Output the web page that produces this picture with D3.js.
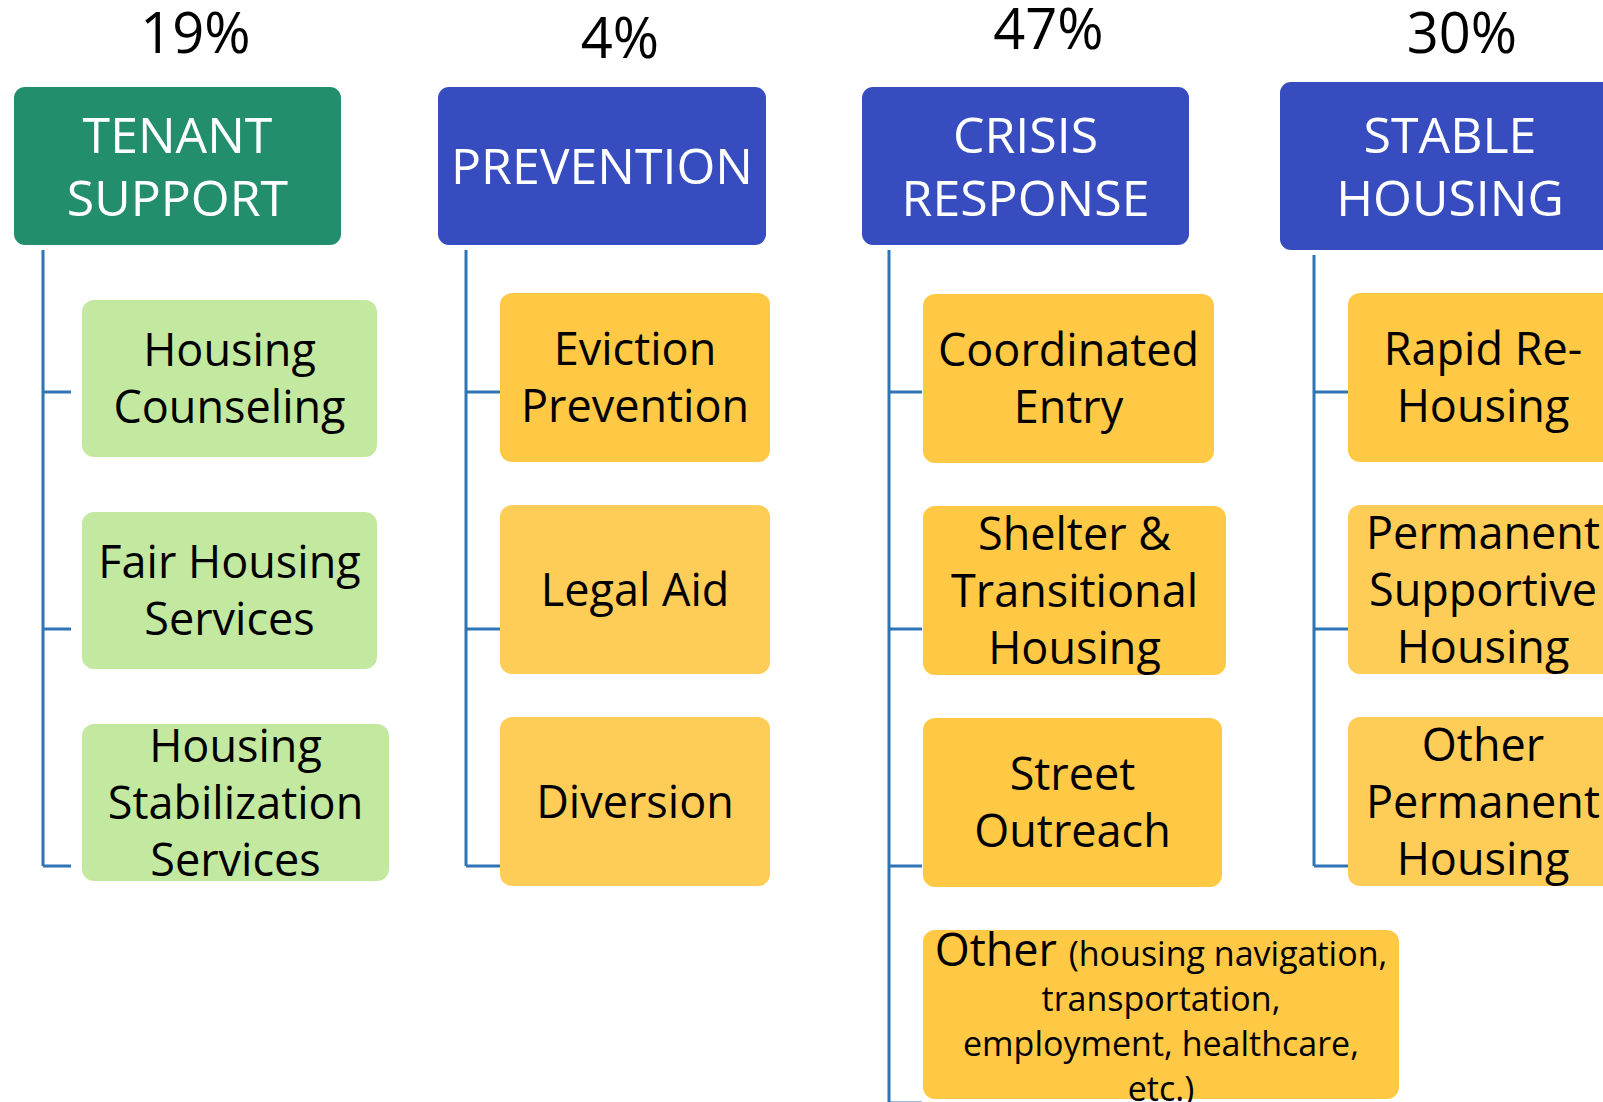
<!DOCTYPE html>
<html>
<head>
<meta charset="utf-8">
<script src="https://cdn.jsdelivr.net/npm/d3@7"></script>
<style>
    body { margin: 0; background: #ffffff; }
    svg { display: block; font-family: "Segoe UI", "Open Sans", sans-serif; }
</style>
</head>
<body>
<svg id="chart" width="1603" height="1102"></svg>
<script>
// funding share per program area
let groups = ['Tenant Support', 'Prevention', 'Crisis Response', 'Stable Housing']
let shares = [19, 4, 47, 30]
let header_labels = [['TENANT', 'SUPPORT'], ['PREVENTION'], ['CRISIS', 'RESPONSE'], ['STABLE', 'HOUSING']]

// programs under each area
let program_group = [0, 0, 0, 1, 1, 1, 2, 2, 2, 2, 3, 3, 3]
let program_row = [0, 1, 2, 0, 1, 2, 0, 1, 2, 3, 0, 1, 2]
let program_labels = [
    ['Housing', 'Counseling'],
    ['Fair Housing', 'Services'],
    ['Housing', 'Stabilization', 'Services'],
    ['Eviction', 'Prevention'],
    ['Legal Aid'],
    ['Diversion'],
    ['Coordinated', 'Entry'],
    ['Shelter &', 'Transitional', 'Housing'],
    ['Street', 'Outreach'],
    ['Other'],
    ['Rapid Re-', 'Housing'],
    ['Permanent', 'Supportive', 'Housing'],
    ['Other', 'Permanent', 'Housing']
]
let other_note = ['(housing navigation,', 'transportation,', 'employment, healthcare,', 'etc.)']

// layout (pixels), kept apart from the data
let col_left = [14, 438, 862, 1280]
let header_top = [87, 87, 87, 82]
let header_h = [158, 158, 158, 168]
let header_w = [327, 328, 327, 340]
let pct_dx = [18, 18, 23, 12]
let pct_base = [53, 58, 49, 53]
let line_dx = [29, 28, 27, 34]
let tick_len = [28, 34, 33, 34]
let box_dx = [68, 62, 61, 68]
let box_dy = [7, 0, 1, 0]
let box_w = [295, 295, 307, 270, 270, 270, 291, 303, 299, 476, 270, 270, 270]
let box_h = [157, 169, 169, 169]
let box_tone = ['green', 'green', 'green', 'gold', 'soft', 'soft', 'gold', 'gold', 'gold', 'gold', 'gold', 'soft', 'soft']

let colors = {
    header: ['#238e6e', '#374cbf', '#374cbf', '#374cbf'],
    green: '#c3e8a0',
    gold: '#ffc845',
    soft: '#fecd58',
    line: '#2e75b6'
}

let svg = d3.select('#chart')

let x = d3.scaleOrdinal().domain(groups).range(col_left)
let row_top = d3.scaleLinear().domain([0, 1]).range([293, 505])
let tick_y = d3.scaleLinear().domain([0, 1]).range([392, 629])

let child_font = 45
let child_lh = 57

// connector lines
groups.forEach(function(g, gi) {
    let lx = x(g) + line_dx[gi]
    let rows = program_row.filter((r, i) => program_group[i] === gi)
    let last = d3.max(rows)
    let path = d3.path()
    path.moveTo(lx, header_top[gi] + header_h[gi] + 5)
    path.lineTo(lx, tick_y(last))
    rows.forEach(function(r) {
        path.moveTo(lx, tick_y(r))
        path.lineTo(lx + tick_len[gi], tick_y(r))
    })
    svg.append('path')
        .attr('d', path.toString())
        .attr('fill', 'none')
        .attr('stroke', colors.line)
        .attr('stroke-width', 3)
})

// headers and shares
groups.forEach(function(g, gi) {
    let left = x(g)
    let cx = left + header_w[gi] / 2
    let cy = header_top[gi] + header_h[gi] / 2

    svg.append('text')
        .attr('x', cx + pct_dx[gi])
        .attr('y', pct_base[gi])
        .attr('text-anchor', 'middle')
        .attr('font-size', 56)
        .attr('fill', '#000')
        .text(`${shares[gi]}%`)

    svg.append('rect')
        .attr('x', left)
        .attr('y', header_top[gi])
        .attr('width', header_w[gi])
        .attr('height', header_h[gi])
        .attr('rx', 11)
        .attr('fill', colors.header[gi])

    let lines = header_labels[gi]
    lines.forEach(function(t, i) {
        svg.append('text')
            .attr('x', cx)
            .attr('y', cy + (i - (lines.length - 1) / 2) * 63 + 18)
            .attr('text-anchor', 'middle')
            .attr('font-size', 50)
            .attr('fill', '#fff')
            .text(t)
    })
})

// program boxes
program_labels.forEach(function(lines, pi) {
    let gi = program_group[pi]
    let left = x(groups[gi]) + box_dx[gi]
    let top = row_top(program_row[pi]) + box_dy[gi]
    let h = box_h[gi]
    let w = box_w[pi]
    let cx = left + w / 2
    let cy = top + h / 2

    svg.append('rect')
        .attr('x', left)
        .attr('y', top)
        .attr('width', w)
        .attr('height', h)
        .attr('rx', 12)
        .attr('fill', colors[box_tone[pi]])

    if (gi === 2 && program_row[pi] === 3) {
        // mixed size label: big lead word + small notes
        let first = svg.append('text')
            .attr('x', cx)
            .attr('y', top + 36)
            .attr('text-anchor', 'middle')
            .attr('fill', '#000')
        first.append('tspan').attr('font-size', child_font).text(lines[0] + ' ')
        first.append('tspan').attr('font-size', 34).text(other_note[0])
        other_note.slice(1).forEach(function(t, i) {
            svg.append('text')
                .attr('x', cx)
                .attr('y', top + 36 + (i + 1) * 45)
                .attr('text-anchor', 'middle')
                .attr('font-size', 34)
                .attr('fill', '#000')
                .text(t)
        })
        return
    }

    lines.forEach(function(t, i) {
        svg.append('text')
            .attr('x', cx)
            .attr('y', cy + (i - (lines.length - 1) / 2) * child_lh + 16)
            .attr('text-anchor', 'middle')
            .attr('font-size', child_font)
            .attr('fill', '#000')
            .text(t)
    })
})
</script>
</body>
</html>
